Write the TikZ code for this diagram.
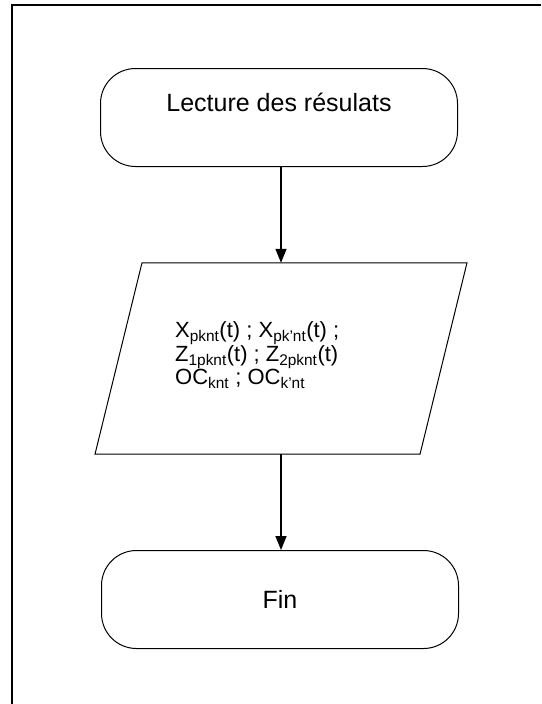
\documentclass[tikz,border=0pt]{standalone}
\usepackage{fontspec}
\setmainfont{Liberation Sans}
\usetikzlibrary{arrows.meta,calc}
\begin{document}
\begin{tikzpicture}[x=1pt,y=-1pt,
 term/.style={draw, line width=1pt, rounded corners=35pt, minimum width=357pt, minimum height=98pt, inner sep=0pt, font=\fontsize{25}{30}\selectfont},
 flow/.style={line width=1.5pt, -{Triangle[length=14pt,width=11pt]}},
 frame/.style={line width=2pt},
 outline/.style={line width=1pt},
 ]
\useasboundingbox (0,0) rectangle (541,704);
\draw[frame] (541,5) -- (12,5) -- (12,704);
\node[term, text height=18pt, text depth=31pt] (start) at (279,117.5) {Lecture des résulats};
\node[minimum width=278pt, minimum height=191pt, inner sep=0pt] (para) at (281,358.5) {};
\draw[outline] ([xshift=-139pt]para.north) -- ([xshift=186pt]para.north) -- ([xshift=139pt]para.south) -- ([xshift=-186pt]para.south) -- cycle;
\node[anchor=north west, align=left, inner sep=0pt, font=\fontsize{22}{21.5}\selectfont] (data) at (175,321) {X\textsubscript{pknt}(t) ; X\textsubscript{pk'nt}(t) ;\\ Z\textsubscript{1pknt}(t) ; Z\textsubscript{2pknt}(t)\\ OC\textsubscript{knt} ; OC\textsubscript{k'nt}};
\node[term] (end) at (280,599.5) {Fin};
\draw[flow] (para.north |- start.south) -- (para.north);
\draw[flow] (para.south) -- (para.south |- end.north);
\end{tikzpicture}
\end{document}
